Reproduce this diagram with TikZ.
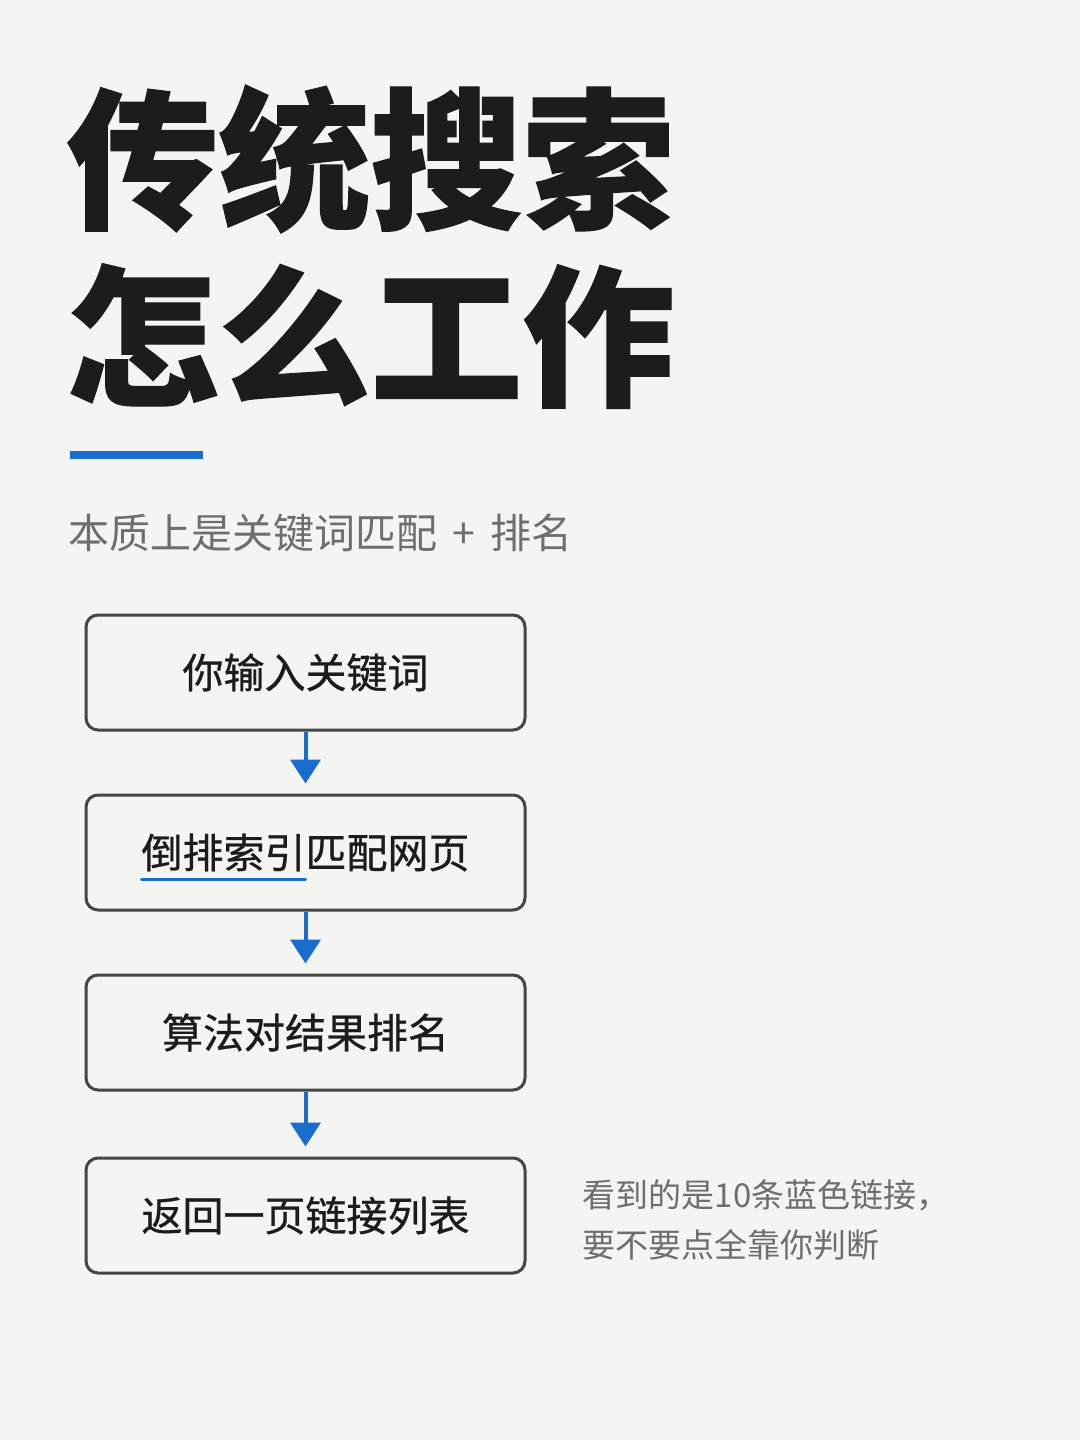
\documentclass[tikz,border=0pt]{standalone}
\usepackage{fontspec}
\setmainfont{Noto Sans CJK SC}
\newfontfamily\headfont{Noto Sans CJK SC}[BoldFeatures={FakeBold=0.8}]
\newfontfamily\stepfont{Noto Sans CJK SC}[FakeBold=0.7]
\usepackage{tikz}
\usetikzlibrary{positioning, calc, arrows.meta}
\definecolor{bggray}{HTML}{F4F4F2}
\definecolor{stepblue}{HTML}{1A6CCF}
\definecolor{edgegray}{HTML}{454545}
\definecolor{inkdark}{HTML}{1C1C1C}
\definecolor{notegray}{HTML}{6E6E6E}

\begin{document}
\begin{tikzpicture}[x=0.5pt, y=-0.5pt,
		stepbox/.style={draw=edgegray, line width=1.5pt, rounded corners=6pt, fill=bggray,
			minimum width=219.5pt, minimum height=57.5pt, inner sep=0pt,
			font=\stepfont\fontsize{20.5pt}{24pt}\selectfont, text=inkdark},
		flow/.style={stepblue, line width=2pt, -{Triangle[width=15pt,length=12pt]}, shorten >=5pt}]
		\fill[bggray] (0,0) rectangle (1080,1440);
		\useasboundingbox (0,0) rectangle (1080,1440);
		% heading
		\node[anchor=west, inner sep=0pt, text=inkdark, font=\headfont\bfseries\fontsize{76pt}{80pt}\selectfont] (title1) at (66,159) {传统搜索};
		\node[anchor=west, inner sep=0pt, text=inkdark, font=\headfont\bfseries\fontsize{76pt}{80pt}\selectfont] (title2) at (66,336) {怎么工作};
		\fill[stepblue] (70,451) rectangle (203,459);
		\node[anchor=west, inner sep=0pt, text=notegray, font=\fontsize{20.5pt}{24pt}\selectfont] (lead) at (68,533) {本质上是关键词匹配\hspace{3pt} + \hspace{3pt}排名};
		% steps
		\node[stepbox] (step1) at (305.5,672.5) {你输入关键词};
		\node[stepbox, below=31pt of step1] (step2) {倒排索引匹配网页};
		\node[stepbox, below=31pt of step2] (step3) {算法对结果排名};
		\node[stepbox, below=32.5pt of step3] (step4) {返回一页链接列表};
		\draw[flow] (step1) -- (step2);
		\draw[flow] (step2) -- (step3);
		\draw[flow] (step3) -- (step4);
		\draw[stepblue, line width=1.5pt, line cap=round] ($(step2.center)+(-164,27)$) -- ($(step2.center)+(0,27)$);
		% side note
		\node[right=28pt of step4, anchor=west, yshift=-2pt, inner sep=0pt, align=left, text=notegray,
			font=\fontsize{16.5pt}{25pt}\selectfont] (note) {看到的是10条蓝色链接，\\要不要点全靠你判断};
\end{tikzpicture}
\end{document}
